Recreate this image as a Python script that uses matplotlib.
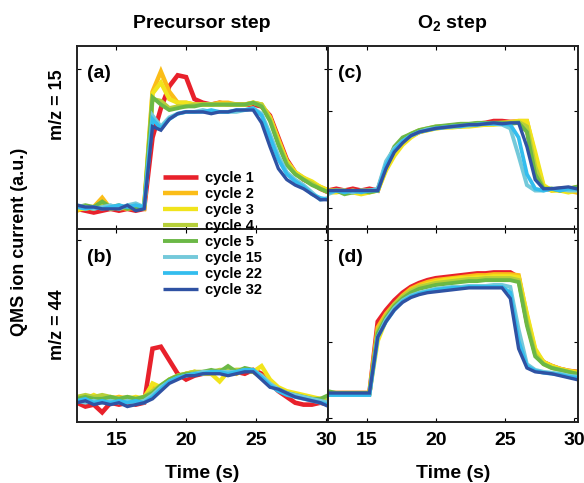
import matplotlib
matplotlib.use('Agg')
import matplotlib.pyplot as plt

plt.rcParams['font.family'] = ['Liberation Sans', 'DejaVu Sans']
plt.rcParams['font.weight'] = 'bold'
plt.rcParams['mathtext.fontset'] = 'custom'
plt.rcParams['mathtext.bf'] = 'Liberation Sans:bold'
plt.rcParams['mathtext.rm'] = 'Liberation Sans:bold'

# time base (s), shared by all four panels
time_s = [12.2, 12.8, 13.4, 14.0, 14.6, 15.2, 15.8, 16.4, 17.0, 17.6, 18.2,
          18.8, 19.4, 20.0, 20.6, 21.2, 21.8, 22.4, 23.0, 23.6, 24.2, 24.8,
          25.4, 26.0, 26.6, 27.2, 27.8, 28.4, 29.0, 29.6, 30.2]

cycles = ['cycle 1', 'cycle 2', 'cycle 3', 'cycle 4',
          'cycle 5', 'cycle 15', 'cycle 22', 'cycle 32']
colors = ['#e8212b', '#fbbd18', '#f1e41c', '#b6cf3a',
          '#6bb846', '#74c9da', '#33bdee', '#2f52a3']
widths = [3.3, 3.2, 3.1, 3.0, 2.8, 2.8, 2.7, 2.4]

# (a) precursor step, m/z = 15  (a.u.)
a_c1 = [0.11, 0.10, 0.09, 0.10, 0.11, 0.10, 0.11, 0.10, 0.11, 0.50, 0.66, 0.78, 0.84, 0.83, 0.71, 0.69,
        0.68, 0.69, 0.68, 0.68, 0.68, 0.68, 0.67, 0.62, 0.50, 0.38, 0.31, 0.27, 0.25, 0.22, 0.20]
a_c2 = [0.10, 0.12, 0.12, 0.17, 0.11, 0.12, 0.11, 0.12, 0.11, 0.75, 0.86, 0.75, 0.69, 0.69, 0.68, 0.68,
        0.68, 0.69, 0.69, 0.68, 0.68, 0.69, 0.68, 0.61, 0.49, 0.37, 0.31, 0.28, 0.25, 0.23, 0.21]
a_c3 = [0.11, 0.11, 0.12, 0.14, 0.11, 0.12, 0.12, 0.11, 0.12, 0.74, 0.80, 0.71, 0.69, 0.69, 0.68, 0.68,
        0.68, 0.68, 0.68, 0.68, 0.68, 0.69, 0.68, 0.61, 0.48, 0.37, 0.31, 0.28, 0.26, 0.23, 0.21]
a_c4 = [0.12, 0.12, 0.11, 0.13, 0.12, 0.11, 0.12, 0.12, 0.12, 0.71, 0.70, 0.66, 0.67, 0.67, 0.68, 0.68,
        0.68, 0.68, 0.68, 0.68, 0.68, 0.69, 0.68, 0.60, 0.47, 0.36, 0.30, 0.27, 0.25, 0.22, 0.20]
a_c5 = [0.12, 0.13, 0.12, 0.15, 0.12, 0.13, 0.11, 0.12, 0.12, 0.72, 0.68, 0.65, 0.66, 0.67, 0.67, 0.68,
        0.68, 0.68, 0.68, 0.68, 0.68, 0.69, 0.67, 0.59, 0.46, 0.35, 0.30, 0.27, 0.24, 0.22, 0.20]
a_c15 = [0.13, 0.12, 0.11, 0.12, 0.13, 0.11, 0.13, 0.14, 0.12, 0.62, 0.56, 0.61, 0.63, 0.64, 0.64, 0.65,
         0.64, 0.64, 0.64, 0.64, 0.65, 0.66, 0.63, 0.52, 0.40, 0.31, 0.27, 0.24, 0.20, 0.16, 0.17]
a_c22 = [0.12, 0.11, 0.12, 0.11, 0.12, 0.13, 0.12, 0.13, 0.12, 0.60, 0.55, 0.60, 0.63, 0.64, 0.64, 0.64,
         0.65, 0.64, 0.64, 0.65, 0.65, 0.66, 0.62, 0.50, 0.38, 0.30, 0.26, 0.23, 0.19, 0.17, 0.16]
a_c32 = [0.13, 0.12, 0.12, 0.11, 0.11, 0.11, 0.13, 0.10, 0.11, 0.56, 0.54, 0.60, 0.63, 0.64, 0.64, 0.64,
         0.63, 0.64, 0.64, 0.65, 0.65, 0.65, 0.58, 0.45, 0.33, 0.27, 0.24, 0.22, 0.19, 0.16, 0.16]

# (b) precursor step, m/z = 44
b_c1 = [0.10, 0.08, 0.09, 0.05, 0.10, 0.09, 0.10, 0.09, 0.10, 0.38, 0.39, 0.32, 0.25, 0.22, 0.24, 0.25,
        0.25, 0.26, 0.27, 0.26, 0.25, 0.27, 0.25, 0.20, 0.16, 0.13, 0.10, 0.09, 0.09, 0.10, 0.09]
b_c2 = [0.12, 0.13, 0.12, 0.13, 0.12, 0.13, 0.12, 0.11, 0.13, 0.19, 0.17, 0.21, 0.23, 0.25, 0.26, 0.25,
        0.25, 0.26, 0.27, 0.25, 0.27, 0.26, 0.24, 0.19, 0.17, 0.15, 0.14, 0.13, 0.12, 0.12, 0.11]
b_c3 = [0.13, 0.12, 0.14, 0.12, 0.13, 0.12, 0.12, 0.13, 0.12, 0.20, 0.18, 0.22, 0.24, 0.25, 0.26, 0.25,
        0.25, 0.21, 0.26, 0.27, 0.27, 0.26, 0.29, 0.22, 0.18, 0.16, 0.15, 0.14, 0.13, 0.12, 0.11]
b_c4 = [0.13, 0.14, 0.13, 0.14, 0.13, 0.12, 0.13, 0.12, 0.13, 0.16, 0.19, 0.22, 0.24, 0.25, 0.26, 0.26,
        0.26, 0.27, 0.27, 0.27, 0.27, 0.26, 0.23, 0.19, 0.17, 0.15, 0.14, 0.13, 0.12, 0.11, 0.12]
b_c5 = [0.12, 0.13, 0.12, 0.12, 0.13, 0.12, 0.13, 0.12, 0.13, 0.15, 0.19, 0.22, 0.24, 0.25, 0.25, 0.26,
        0.27, 0.26, 0.29, 0.26, 0.28, 0.27, 0.23, 0.19, 0.17, 0.15, 0.14, 0.13, 0.12, 0.12, 0.14]
b_c15 = [0.11, 0.10, 0.11, 0.10, 0.11, 0.10, 0.11, 0.10, 0.11, 0.14, 0.18, 0.21, 0.23, 0.24, 0.25, 0.26,
         0.26, 0.26, 0.26, 0.26, 0.27, 0.27, 0.24, 0.20, 0.17, 0.15, 0.14, 0.13, 0.12, 0.11, 0.10]
b_c22 = [0.11, 0.12, 0.10, 0.11, 0.10, 0.11, 0.10, 0.11, 0.10, 0.13, 0.17, 0.21, 0.23, 0.24, 0.25, 0.25,
         0.26, 0.26, 0.25, 0.26, 0.27, 0.27, 0.23, 0.19, 0.16, 0.14, 0.13, 0.12, 0.11, 0.10, 0.09]
b_c32 = [0.10, 0.11, 0.09, 0.10, 0.09, 0.10, 0.08, 0.09, 0.10, 0.12, 0.16, 0.20, 0.22, 0.24, 0.24, 0.25,
         0.25, 0.25, 0.24, 0.25, 0.26, 0.26, 0.22, 0.18, 0.17, 0.15, 0.13, 0.12, 0.11, 0.10, 0.08]

# (c) O2 step, m/z = 15
c_c1 = [0.21, 0.22, 0.21, 0.22, 0.21, 0.22, 0.21, 0.35, 0.43, 0.48, 0.51, 0.53, 0.545, 0.555, 0.56, 0.565,
        0.57, 0.57, 0.575, 0.58, 0.59, 0.59, 0.585, 0.585, 0.55, 0.32, 0.22, 0.215, 0.22, 0.21, 0.215]
c_c2 = [0.21, 0.21, 0.20, 0.21, 0.20, 0.21, 0.21, 0.33, 0.41, 0.47, 0.51, 0.53, 0.54, 0.55, 0.555, 0.56,
        0.56, 0.565, 0.57, 0.57, 0.575, 0.58, 0.585, 0.59, 0.59, 0.40, 0.23, 0.21, 0.22, 0.21, 0.20]
c_c3 = [0.20, 0.20, 0.21, 0.20, 0.19, 0.20, 0.21, 0.32, 0.40, 0.46, 0.50, 0.53, 0.54, 0.55, 0.555, 0.555,
        0.56, 0.56, 0.565, 0.57, 0.57, 0.575, 0.58, 0.59, 0.59, 0.42, 0.24, 0.21, 0.21, 0.20, 0.21]
c_c4 = [0.21, 0.21, 0.21, 0.20, 0.21, 0.21, 0.21, 0.34, 0.43, 0.49, 0.52, 0.54, 0.55, 0.56, 0.56, 0.565,
        0.57, 0.57, 0.575, 0.575, 0.58, 0.58, 0.58, 0.585, 0.56, 0.34, 0.22, 0.22, 0.21, 0.22, 0.23]
c_c5 = [0.20, 0.21, 0.19, 0.20, 0.21, 0.20, 0.21, 0.35, 0.45, 0.50, 0.52, 0.54, 0.55, 0.56, 0.565, 0.57,
        0.575, 0.575, 0.58, 0.58, 0.58, 0.58, 0.575, 0.58, 0.53, 0.30, 0.22, 0.22, 0.21, 0.22, 0.23]
c_c15 = [0.19, 0.21, 0.21, 0.20, 0.21, 0.21, 0.22, 0.37, 0.44, 0.48, 0.51, 0.53, 0.545, 0.55, 0.555, 0.56,
         0.565, 0.565, 0.57, 0.575, 0.575, 0.57, 0.55, 0.40, 0.24, 0.21, 0.21, 0.22, 0.22, 0.21, 0.21]
c_c22 = [0.20, 0.21, 0.20, 0.21, 0.20, 0.21, 0.21, 0.35, 0.43, 0.48, 0.51, 0.53, 0.54, 0.55, 0.555, 0.56,
         0.56, 0.57, 0.57, 0.575, 0.575, 0.575, 0.57, 0.50, 0.30, 0.22, 0.21, 0.22, 0.21, 0.22, 0.22]
c_c32 = [0.21, 0.21, 0.21, 0.21, 0.21, 0.21, 0.21, 0.33, 0.42, 0.47, 0.51, 0.53, 0.54, 0.55, 0.555, 0.56,
         0.565, 0.57, 0.57, 0.575, 0.58, 0.575, 0.58, 0.58, 0.45, 0.27, 0.22, 0.22, 0.225, 0.23, 0.22]

# (d) O2 step, m/z = 44
d_c1 = [0.15, 0.15, 0.15, 0.15, 0.15, 0.15, 0.52, 0.58, 0.63, 0.67, 0.70, 0.72, 0.735, 0.745, 0.75, 0.755,
        0.76, 0.765, 0.77, 0.77, 0.775, 0.775, 0.775, 0.75, 0.52, 0.36, 0.31, 0.29, 0.275, 0.265, 0.26]
d_c2 = [0.15, 0.15, 0.15, 0.15, 0.15, 0.15, 0.49, 0.56, 0.61, 0.655, 0.69, 0.71, 0.725, 0.735, 0.74, 0.745,
        0.75, 0.755, 0.76, 0.76, 0.765, 0.765, 0.765, 0.76, 0.55, 0.37, 0.31, 0.29, 0.275, 0.265, 0.26]
d_c3 = [0.15, 0.15, 0.15, 0.15, 0.15, 0.15, 0.42, 0.53, 0.60, 0.645, 0.68, 0.70, 0.715, 0.725, 0.735, 0.74,
        0.745, 0.745, 0.75, 0.75, 0.755, 0.755, 0.755, 0.75, 0.56, 0.38, 0.31, 0.29, 0.275, 0.265, 0.255]
d_c4 = [0.15, 0.15, 0.15, 0.15, 0.15, 0.15, 0.47, 0.55, 0.61, 0.65, 0.68, 0.70, 0.71, 0.72, 0.725, 0.73,
        0.735, 0.74, 0.74, 0.745, 0.745, 0.745, 0.745, 0.735, 0.52, 0.35, 0.30, 0.28, 0.27, 0.26, 0.25]
d_c5 = [0.16, 0.15, 0.15, 0.15, 0.15, 0.15, 0.46, 0.54, 0.60, 0.64, 0.67, 0.69, 0.70, 0.71, 0.715, 0.72,
        0.725, 0.73, 0.73, 0.735, 0.735, 0.735, 0.735, 0.725, 0.50, 0.34, 0.30, 0.28, 0.27, 0.26, 0.25]
d_c15 = [0.14, 0.14, 0.14, 0.14, 0.14, 0.14, 0.44, 0.53, 0.59, 0.63, 0.655, 0.67, 0.68, 0.69, 0.695, 0.70,
         0.70, 0.705, 0.705, 0.705, 0.71, 0.71, 0.70, 0.48, 0.30, 0.27, 0.26, 0.255, 0.25, 0.24, 0.235]
d_c22 = [0.14, 0.14, 0.14, 0.14, 0.14, 0.14, 0.44, 0.52, 0.58, 0.625, 0.65, 0.665, 0.675, 0.685, 0.69, 0.695,
         0.695, 0.70, 0.70, 0.70, 0.70, 0.70, 0.67, 0.42, 0.29, 0.265, 0.255, 0.25, 0.245, 0.235, 0.23]
d_c32 = [0.15, 0.15, 0.15, 0.15, 0.15, 0.15, 0.44, 0.52, 0.58, 0.62, 0.645, 0.66, 0.67, 0.675, 0.68, 0.685,
         0.69, 0.695, 0.695, 0.695, 0.695, 0.695, 0.64, 0.38, 0.28, 0.26, 0.255, 0.25, 0.24, 0.23, 0.22]

panel_a = [a_c1, a_c2, a_c3, a_c4, a_c5, a_c15, a_c22, a_c32]
panel_b = [b_c1, b_c2, b_c3, b_c4, b_c5, b_c15, b_c22, b_c32]
panel_c = [c_c1, c_c2, c_c3, c_c4, c_c5, c_c15, c_c22, c_c32]
panel_d = [d_c1, d_c2, d_c3, d_c4, d_c5, d_c15, d_c22, d_c32]

x_ticks = [15, 20, 25, 30]

fig = plt.figure(figsize=(5.84, 4.83), dpi=100)
W, H = 584.0, 483.0


def add_ax(x0, x1, y0, y1):
    return fig.add_axes([x0 / W, 1 - y1 / H, (x1 - x0) / W, (y1 - y0) / H])


ax_a = add_ax(77, 328, 46, 229)
ax_b = add_ax(77, 328, 229, 422)
ax_c = add_ax(328, 578, 46, 229)
ax_d = add_ax(328, 578, 229, 422)

setups = [
    (ax_a, panel_a, '(a)', (12.2, 30.15), [0.874], False),
    (ax_b, panel_b, '(b)', (12.2, 30.15), [0.943], True),
    (ax_c, panel_c, '(c)', (12.2, 30.3), [0.115, 0.645, 0.874], False),
    (ax_d, panel_d, '(d)', (12.2, 30.3), [0.02, 0.415, 0.943], True),
]

for ax, series, tag, xl, yt, bottom in setups:
    for vals, col, lw, lab in zip(series, colors, widths, cycles):
        ax.plot(time_s, vals, color=col, lw=lw, label=lab, solid_joinstyle='miter')
    ax.set_xlim(*xl)
    ax.set_ylim(0, 1)
    ax.set_xticks(x_ticks)
    ax.set_yticks(yt)
    ax.set_yticklabels([])
    ax.tick_params(direction='in', length=3, width=0.8, top=True, right=True,
                   labelsize=14, pad=7)
    if not bottom:
        ax.set_xticklabels([])
    for sp in ax.spines.values():
        sp.set_linewidth(1.4)
        sp.set_color('#222222')
    ax.text(0.04, 0.85, tag, transform=ax.transAxes, fontsize=14,
            fontweight='bold', va='center', ha='left')

# column titles and axis labels
fig.text(202 / W, 1 - 24 / H, 'Precursor step', ha='center', va='center',
         fontsize=14, fontweight='bold')
fig.text(452 / W, 1 - 24 / H, r'O$_\mathbf{2}$ step', ha='center', va='center',
         fontsize=14, fontweight='bold')
fig.text(202 / W, 1 - 474 / H, 'Time (s)', ha='center', va='center',
         fontsize=14, fontweight='bold')
fig.text(453 / W, 1 - 474 / H, 'Time (s)', ha='center', va='center',
         fontsize=14, fontweight='bold')
fig.text(20 / W, 1 - 242 / H, 'QMS ion current (a.u.)', rotation=90,
         ha='center', va='center', fontsize=13, fontweight='bold')
fig.text(57 / W, 1 - 105 / H, 'm/z = 15', rotation=90,
         ha='center', va='center', fontsize=13, fontweight='bold')
fig.text(57 / W, 1 - 325 / H, 'm/z = 44', rotation=90,
         ha='center', va='center', fontsize=13, fontweight='bold')

handles, labels = ax_a.get_legend_handles_labels()
leg = fig.legend(handles, labels, loc='upper left',
                 bbox_to_anchor=(163 / W, 1 - 171 / H), frameon=False,
                 fontsize=10.5, handlelength=2.4, handletextpad=0.45,
                 labelspacing=0.14, borderpad=0, borderaxespad=0)
for line in leg.get_lines():
    line.set_solid_capstyle('butt')
for t in leg.get_texts():
    t.set_fontweight('bold')

fig.savefig('out.png', dpi=100)
